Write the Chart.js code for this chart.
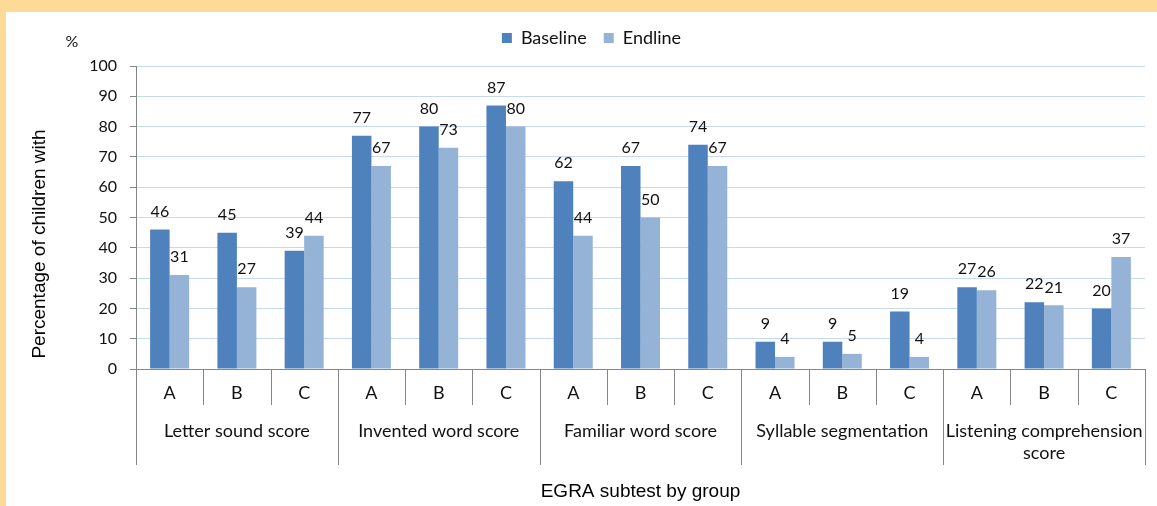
<!DOCTYPE html>
<html>
<head>
<meta charset="utf-8">
<script src="https://cdn.jsdelivr.net/npm/chart.js@4.4.0/dist/chart.umd.min.js"></script>
<style>
  html, body { margin: 0; padding: 0; }
  body { width: 1157px; height: 506px; background: #FDDA97; position: relative; overflow: hidden; }
  #wrap { position: absolute; left: 6px; top: 12px; width: 1151px; height: 494px; background: #fff; }
</style>
</head>
<body>
<div id="wrap"><canvas id="chart" width="1151" height="494"></canvas></div>
<script>
// Chart data
const groupNames = [
  ['Letter sound score'],
  ['Invented word score'],
  ['Familiar word score'],
  ['Syllable segmentation'],
  ['Listening comprehension', 'score']
];
const subGroups = ['A', 'B', 'C'];
const baseline = [46, 45, 39, 77, 80, 87, 62, 67, 74, 9, 9, 19, 27, 22, 20];
const endline  = [31, 27, 44, 67, 73, 80, 44, 50, 67, 4, 5, 4, 26, 21, 37];
const yTicks = { min: 0, max: 100, step: 10 };

// one label per bar pair: A, B, C for each group
const labels = [];
groupNames.forEach(() => subGroups.forEach(s => labels.push(s)));

const textFont = 'Lato, "Open Sans", sans-serif';
const arialFont = '"Liberation Sans", Arial, sans-serif';
const axisGray = '#868686';

// Draw the values above every bar
const valueLabels = {
  id: 'valueLabels',
  afterDatasetsDraw(chart) {
    const ctx = chart.ctx;
    ctx.save();
    ctx.font = '16px ' + textFont;
    ctx.fillStyle = '#111';
    ctx.textAlign = 'center';
    ctx.textBaseline = 'middle';
    chart.data.datasets.forEach((ds, di) => {
      chart.getDatasetMeta(di).data.forEach((bar, i) => {
        ctx.fillText(ds.data[i], bar.x, bar.y - 18);
      });
    });
    ctx.restore();
  }
};

// keep a fixed gap between the legend and the plot, and nudge the legend right
const legendSpace = {
  id: 'legendSpace',
  afterInit(chart) {
    const lg = chart.legend;
    const fit = lg.fit;
    lg.fit = function () {
      fit.call(this);
      this.height = 54;
    };
  },
  afterLayout(chart) {
    chart.legend.left += 16;
    chart.legend.right += 16;
  }
};

// Two-level category axis: separators, group names, plus "%" and the y title
const groupAxis = {
  id: 'groupAxis',
  afterDraw(chart) {
    const ctx = chart.ctx;
    const x = chart.scales.x;
    const area = chart.chartArea;
    const n = labels.length;
    const step = (area.right - area.left) / n;
    const y0 = area.bottom;

    ctx.save();
    ctx.strokeStyle = axisGray;
    ctx.lineWidth = 1;
    for (let i = 0; i <= n; i++) {
      const px = Math.round(x.getPixelForValue(Math.min(i, n - 1)) + (i === n ? step / 2 : -step / 2)) + 0.5;
      const len = i % subGroups.length === 0 ? 96 : 36;
      ctx.beginPath();
      ctx.moveTo(px, y0);
      ctx.lineTo(px, y0 + len);
      ctx.stroke();
    }

    ctx.font = '18px ' + textFont;
    ctx.fillStyle = '#111';
    ctx.textAlign = 'center';
    ctx.textBaseline = 'middle';
    groupNames.forEach((lines, g) => {
      const first = x.getPixelForValue(g * subGroups.length);
      const last = x.getPixelForValue(g * subGroups.length + subGroups.length - 1);
      const cx = (first + last) / 2;
      lines.forEach((t, li) => ctx.fillText(t, cx, y0 + 62 + li * 22));
    });

    ctx.font = '16px ' + textFont;
    ctx.fillText('%', 66, 30);

    ctx.font = '19px ' + arialFont;
    ctx.fillStyle = '#000';
    ctx.translate(34, y0 - 125);
    ctx.rotate(-Math.PI / 2);
    ctx.fillText('Percentage of children with', 0, 0);
    ctx.restore();
  }
};

new Chart(document.getElementById('chart'), {
  type: 'bar',
  data: {
    labels: labels,
    datasets: [
      { label: 'Baseline', data: baseline, backgroundColor: '#4F81BD', categoryPercentage: 0.58, barPercentage: 1 },
      { label: 'Endline', data: endline, backgroundColor: '#95B3D7', categoryPercentage: 0.58, barPercentage: 1 }
    ]
  },
  options: {
    responsive: false,
    animation: false,
    layout: { padding: { top: 0, right: 12, left: 0, bottom: 0 } },
    plugins: {
      tooltip: { enabled: false },
      legend: {
        position: 'top',
        labels: {
          boxWidth: 10,
          boxHeight: 10,
          padding: 17,
          color: '#111',
          font: { family: textFont, size: 18 }
        }
      }
    },
    scales: {
      x: {
        grid: { display: false, drawTicks: false },
        border: { color: axisGray },
        ticks: { color: '#111', padding: 13, font: { family: textFont, size: 18 } },
        title: {
          display: true,
          text: 'EGRA subtest by group',
          color: '#000',
          font: { family: arialFont, size: 19 },
          padding: { top: 0, bottom: 3 }
        },
        afterFit(scale) { scale.height = 137; }
      },
      y: {
        min: yTicks.min,
        max: yTicks.max,
        grid: { color: '#C6D9F1', tickColor: axisGray, tickLength: 6 },
        border: { color: axisGray },
        ticks: { stepSize: yTicks.step, color: '#111', padding: 13, font: { family: textFont, size: 16 } },
        afterFit(scale) { scale.width = 130; }
      }
    }
  },
  plugins: [valueLabels, groupAxis, legendSpace]
});
</script>
</body>
</html>
